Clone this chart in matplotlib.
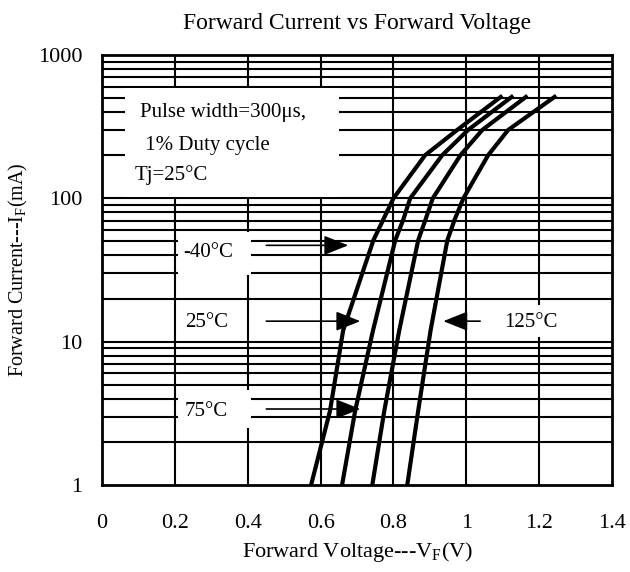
import numpy as np
import matplotlib
matplotlib.use("Agg")
import matplotlib.pyplot as plt
from matplotlib.patches import Rectangle

plt.rcParams['font.family'] = ['Liberation Serif', 'DejaVu Serif']
plt.rcParams['mathtext.fontset'] = 'custom'
plt.rcParams['mathtext.rm'] = 'Liberation Serif'

# forward current (mA) at the read points
current = [1, 3.3, 12, 51, 71, 100, 200, 300, 520]
# forward voltage (V) for each temperature
vf_m40 = [0.574, 0.626, 0.662, 0.745, 0.772, 0.800, 0.887, 0.975, 1.099]
vf_25 = [0.659, 0.695, 0.744, 0.805, 0.827, 0.846, 0.934, 1.005, 1.129]
vf_75 = [0.742, 0.775, 0.816, 0.868, 0.888, 0.908, 0.984, 1.044, 1.168]
vf_125 = [0.838, 0.868, 0.902, 0.948, 0.968, 0.992, 1.060, 1.115, 1.247]

x_ticks = [0, 0.2, 0.4, 0.6, 0.8, 1.0, 1.2, 1.4]
x_labels = ['0', '0.2', '0.4', '0.6', '0.8', '1', '1.2', '1.4']
y_ticks = [1, 10, 100, 1000]
y_labels = ['1', '10', '100', '1000']

fig = plt.figure(figsize=(6.3, 5.72), dpi=100)
ax = fig.add_axes([102 / 630, 1 - 485 / 572, 510 / 630, 430 / 572])
ax.set_yscale('log')
ax.set_xlim(0, 1.4)
ax.set_ylim(1, 1000)

# grid drawn by hand so it stays below the label boxes
for xv in x_ticks[1:-1]:
    ax.axvline(xv, color='black', lw=1.5, zorder=1)
for dec in [1, 10, 100]:
    for m in range(2, 11):
        if dec * m < 1000:
            ax.axhline(dec * m, color='black', lw=1.5, zorder=1)

for vf in [vf_m40, vf_25, vf_75, vf_125]:
    ax.plot(vf, current, color='black', lw=3, solid_capstyle='butt', zorder=4)

def white_box(x0, x1, y0, y1):
    ax.add_patch(Rectangle((x0, y0), x1 - x0, y1 - y0, facecolor='white',
                           edgecolor='none', zorder=2))

fs = 15
white_box(0.063, 0.650, 102, 589)
ax.text(0.104, 394, 'Pulse width=300\u03bcs,', fontsize=fs, va='center', zorder=3)
ax.text(0.104, 235, ' 1% Duty cycle', fontsize=fs, va='center', zorder=3)
ax.text(0.090, 146, 'Tj=25\u00b0C', fontsize=fs, va='center', zorder=3)

white_box(0.209, 0.409, 29, 58)
ax.text(0.223, 42, '-40\u00b0C', fontsize=fs, va='center', zorder=3)
ax.text(0.228, 13.7, '25\u00b0C', fontsize=fs, va='center', zorder=3)
white_box(0.209, 0.409, 2.5, 4.6)
ax.text(0.228, 3.25, '75\u00b0C', fontsize=fs, va='center', zorder=3)
white_box(1.085, 1.250, 10.8, 18)
ax.text(1.105, 13.7, '125\u00b0C', fontsize=fs, va='center', zorder=3)

arrow = dict(arrowstyle='-|>,head_length=1.5,head_width=0.6', color='black',
             lw=1.2, mutation_scale=10, shrinkA=0, shrinkB=0)
ax.annotate('', xy=(0.676, 47), xytext=(0.451, 47), arrowprops=arrow, zorder=3)
ax.annotate('', xy=(0.709, 13.9), xytext=(0.451, 13.9), arrowprops=arrow, zorder=3)
ax.annotate('', xy=(0.709, 3.39), xytext=(0.451, 3.39), arrowprops=arrow, zorder=3)
ax.annotate('', xy=(0.937, 13.9), xytext=(1.038, 13.9), arrowprops=arrow, zorder=3)

ax.set_xticks(x_ticks)
ax.set_xticklabels(x_labels, fontsize=16)
ax.set_yticks(y_ticks)
ax.set_yticklabels(y_labels, fontsize=16)
ax.minorticks_off()
ax.tick_params(axis='x', length=0, pad=21)
ax.tick_params(axis='y', length=0, pad=14)
for s in ax.spines.values():
    s.set_linewidth(2)
    s.set_zorder(5)

ax.set_title('Forward Current vs Forward Voltage', fontsize=17, pad=19)
ax.set_xlabel('Forward Voltage---V$\\mathregular{_F}$(V)', fontsize=16, labelpad=5)
ax.set_ylabel('Forward Current---I$\\mathregular{_F}$(mA)', fontsize=14.5, labelpad=6)

fig.savefig('out.png', dpi=100)
